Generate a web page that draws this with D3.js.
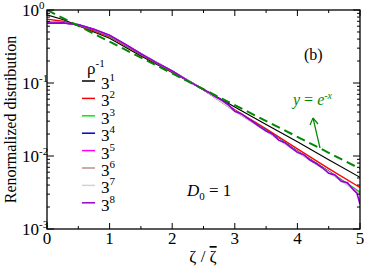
<!DOCTYPE html>
<html>
<head>
<meta charset="utf-8">
<script src="https://cdn.jsdelivr.net/npm/d3@7"></script>
<style>
  body { margin: 0; background: #fff; }
  svg text { font-family: "Liberation Serif", "DejaVu Serif", serif; }
</style>
</head>
<body>
<div id="chart"></div>
<script>
// grid of the smooth curves
const xs = [0, 0.25, 0.5, 0.75, 1, 1.5, 2, 2.5, 3, 3.5, 4, 4.5, 5];

// y = e^-x reference (dashed)
const refX = [0, 1, 2, 3, 4, 5];
const refY = [1, 0.3679, 0.1353, 0.0498, 0.0183, 0.0067];

// rho^-1 = 3^1 .. 3^7
const s1 = [0.86, 0.74, 0.61, 0.50, 0.41, 0.235, 0.139, 0.082, 0.047, 0.027, 0.0157, 0.0089, 0.0051];
const s2 = [0.75, 0.70, 0.61, 0.52, 0.43, 0.245, 0.142, 0.082, 0.043, 0.0235, 0.0125, 0.0067, 0.0037];
const s3 = [0.69, 0.68, 0.62, 0.535, 0.44, 0.248, 0.144, 0.081, 0.042, 0.0226, 0.0117, 0.0062, 0.0032];
const s4 = [0.67, 0.67, 0.625, 0.54, 0.445, 0.25, 0.145, 0.081, 0.0418, 0.0224, 0.0116, 0.0061, 0.0031];
const s5 = [0.665, 0.668, 0.628, 0.54, 0.447, 0.251, 0.145, 0.081, 0.0416, 0.0222, 0.0115, 0.0061, 0.0031];
const s6 = [0.662, 0.667, 0.63, 0.542, 0.448, 0.252, 0.145, 0.081, 0.0415, 0.0221, 0.0114, 0.006, 0.0031];
const s7 = [0.66, 0.666, 0.63, 0.543, 0.449, 0.252, 0.146, 0.081, 0.0414, 0.022, 0.0113, 0.006, 0.003];

// rho^-1 = 3^8 (noisy tail)
const s8x = [0, 0.25, 0.5, 0.75, 1, 1.25, 1.5, 1.75, 2, 2.25, 2.5, 2.6, 2.7, 2.8, 2.9, 3.0,
  3.1, 3.2, 3.3, 3.4, 3.5, 3.6, 3.7, 3.8, 3.9, 4.0, 4.1, 4.2, 4.3, 4.4, 4.5,
  4.6, 4.7, 4.8, 4.9, 4.95, 5.0];
const s8y = [0.66, 0.666, 0.63, 0.543, 0.45, 0.34, 0.252, 0.19, 0.146, 0.108, 0.081, 0.073, 0.064, 0.058, 0.050, 0.041,
  0.038, 0.033, 0.029, 0.025, 0.022, 0.020, 0.0165, 0.0152, 0.013, 0.0112, 0.0104, 0.0088, 0.0079, 0.0069, 0.0058,
  0.0055, 0.0045, 0.0043, 0.0034, 0.0031, 0.0022];

const seriesNames = ["1", "2", "3", "4", "5", "6", "7", "8"];
const seriesColors = ["#000000", "#ff0000", "#00ee00", "#0000cc", "#ff00ff", "#bc8f8f", "#d3d3d3", "#9400d3"];

const xTicks = [0, 1, 2, 3, 4, 5];
const yExp = [0, -1, -2, -3];

const width = 366, height = 269;
const m = { left: 47, right: 6, top: 10, bottom: 40 };
const iw = width - m.left - m.right, ih = height - m.top - m.bottom;

const svg = d3.select("#chart").append("svg")
  .attr("width", width).attr("height", height);

const x = d3.scaleLinear().domain([0, 5]).range([0, iw]);
const y = d3.scaleLog().domain([1e-3, 1]).range([ih, 0]);

const g = svg.append("g").attr("transform", `translate(${m.left},${m.top})`);

g.append("defs").append("clipPath").attr("id", "clip")
  .append("rect").attr("width", iw).attr("height", ih);

const line = d3.line().x(d => x(d[0])).y(d => y(d[1]));
const plot = g.append("g").attr("clip-path", "url(#clip)");

// curves 3^1..3^7
const smooth = [s1, s2, s3, s4, s5, s6, s7];
smooth.forEach((s, i) => {
  plot.append("path")
    .attr("d", line(xs.map((v, j) => [v, s[j]])))
    .attr("fill", "none")
    .attr("stroke", seriesColors[i])
    .attr("stroke-width", i === 0 ? 1.2 : 1.4);
});

plot.append("path")
  .attr("d", line(s8x.map((v, j) => [v, s8y[j]])))
  .attr("fill", "none")
  .attr("stroke", seriesColors[7])
  .attr("stroke-width", 1.6);

// dashed e^-x
plot.append("path")
  .attr("d", line(refX.map((v, j) => [v, refY[j]])))
  .attr("fill", "none")
  .attr("stroke", "#008800")
  .attr("stroke-width", 2)
  .attr("stroke-dasharray", "9,5");

// frame
g.append("rect").attr("width", iw).attr("height", ih)
  .attr("fill", "none").attr("stroke", "#000").attr("stroke-width", 1.3);

// x ticks (inside, bottom and top)
const xMinor = d3.range(0, 5.01, 0.5);
xMinor.forEach(v => {
  const L = Number.isInteger(v) ? 6 : 3;
  g.append("line").attr("x1", x(v)).attr("x2", x(v)).attr("y1", ih).attr("y2", ih - L)
    .attr("stroke", "#000");
  g.append("line").attr("x1", x(v)).attr("x2", x(v)).attr("y1", 0).attr("y2", L)
    .attr("stroke", "#000");
});
xTicks.forEach(v => {
  g.append("text").attr("x", x(v)).attr("y", ih + 15)
    .attr("text-anchor", "middle").style("font-size", "17px").text(v);
});

// y ticks (log, inside, left and right)
yExp.forEach(e => {
  const base = Math.pow(10, e);
  g.append("line").attr("x1", 0).attr("x2", 7).attr("y1", y(base)).attr("y2", y(base)).attr("stroke", "#000");
  g.append("line").attr("x1", iw).attr("x2", iw - 7).attr("y1", y(base)).attr("y2", y(base)).attr("stroke", "#000");
  if (e < 0) {
    for (let k = 2; k <= 9; k++) {
      const v = base * 10 * k / 10;
      g.append("line").attr("x1", 0).attr("x2", 3).attr("y1", y(v)).attr("y2", y(v)).attr("stroke", "#000");
      g.append("line").attr("x1", iw).attr("x2", iw - 3).attr("y1", y(v)).attr("y2", y(v)).attr("stroke", "#000");
    }
  }
  const t = g.append("text").attr("x", -25).attr("y", y(base) + 6)
    .attr("text-anchor", "start").style("font-size", "17px");
  t.append("tspan").text("10");
  t.append("tspan").attr("dy", -7).style("font-size", "11px").text(e);
});

// axis titles
svg.append("text")
  .attr("transform", `translate(16,${m.top + ih / 2}) rotate(-90)`)
  .attr("text-anchor", "middle").style("font-size", "16px")
  .text("Renormalized distribution");

const xt = svg.append("text").attr("x", 203).attr("y", 262)
  .attr("text-anchor", "middle").style("font-size", "17px");
xt.append("tspan").text("ζ / ");
xt.append("tspan").style("text-decoration", "overline").text("ζ");

// legend
const leg = svg.append("g");
const lt = leg.append("text").attr("x", 87).attr("y", 74).style("font-size", "17px");
lt.append("tspan").text("ρ");
lt.append("tspan").attr("dy", -7).style("font-size", "11px").text("-1");

seriesNames.forEach((n, i) => {
  const yy = 81 + i * 17.4;
  leg.append("line").attr("x1", 82).attr("x2", 95).attr("y1", yy).attr("y2", yy)
    .attr("stroke", seriesColors[i]).attr("stroke-width", 1.5);
  const tx = leg.append("text").attr("x", 101).attr("y", yy + 8).style("font-size", "17px");
  tx.append("tspan").text("3");
  tx.append("tspan").attr("dy", -8).style("font-size", "11px").text(n);
});

// annotations
svg.append("text").attr("x", 304).attr("y", 60).style("font-size", "16px").text("(b)");

const d0 = svg.append("text").attr("x", 187).attr("y", 196).style("font-size", "17px");
d0.append("tspan").style("font-style", "italic").text("D");
d0.append("tspan").attr("dy", 4).style("font-size", "11px").text("0");
d0.append("tspan").attr("dy", -4).text(" = 1");

const ex = svg.append("text").attr("x", 293).attr("y", 105)
  .style("font-size", "16px").attr("fill", "#008800");
ex.append("tspan").style("font-style", "italic").text("y");
ex.append("tspan").text(" = ");
ex.append("tspan").style("font-style", "italic").text("e");
ex.append("tspan").attr("dy", -6).style("font-size", "10px").style("font-style", "italic").text("-x");

// arrow pointing to the label
svg.append("line").attr("x1", 320).attr("y1", 148).attr("x2", 313).attr("y2", 118)
  .attr("stroke", "#008800").attr("stroke-width", 1.2);
svg.append("path").attr("d", "M313,118 L310,125 M313,118 L318,124")
  .attr("fill", "none").attr("stroke", "#008800").attr("stroke-width", 1.2);
</script>
</body>
</html>
